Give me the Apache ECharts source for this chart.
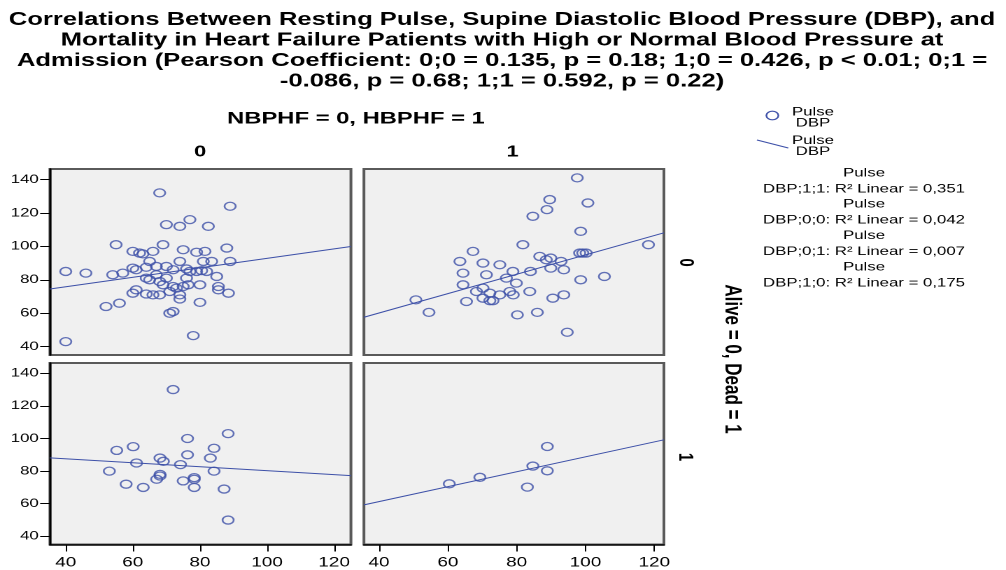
<!DOCTYPE html>
<html>
<head>
<meta charset="utf-8">
<script src="https://cdn.jsdelivr.net/npm/echarts@6/dist/echarts.min.js"></script>
<style>
  html, body { margin: 0; padding: 0; background: #fff; overflow: hidden; }
  /* the reference is an SPSS picture stretched sideways, so the chart is drawn narrow and scaled */
  #chart { width: 719px; height: 570px; transform: scaleX(1.3992); transform-origin: 0 0; }
</style>
</head>
<body>
<div id="chart"></div>
<script>
// Pulse (x) and DBP (y), one pair of arrays per panel
const aliveNormalPulse = [40,40,46,52,54,55,56,57,60,60,60,61,61,62,63,64,64,64,65,66,65,66,67,67,68,68,68,69,69,70,70,70,71,72,71,72,72,73,74,74,74,74,75,75,76,76,76.5,77,77,78,79,79,80,80,80.5,81.5,81,82,82.5,83.5,85,85.5,85.5,88,89,89,88.5];
const aliveNormalDbp   = [85,43,84,64,83,101,66,84,97,72,87,74,86,96,95.5,87.5,71.5,81,91,97,80,71,88,83,132,71,79,101,77,113,88,81,60,61,73,86,76,75,112,91,71,68.5,98,76,86.5,81,77,116,85,46.6,96.5,85,77,66.5,85.5,97,91,85,112,91,82,76,74,99,91,124,72];

const aliveHighPulse = [97.6,100.7,89.6,88.8,84.7,98.6,81.8,118.3,67.3,63.5,70.2,75.1,64.4,71.2,78.9,84,86.7,88.6,89.9,89.9,92.9,93.7,98.3,99.2,100.2,98.6,105.5,77,79.9,64.4,68.3,70.2,70.2,72.2,72.2,73.1,75.1,78,79,83.8,90.5,93.7,50.7,54.5,65.4,80.2,86,94.7];
const aliveHighDbp   = [141,126,128,122,118,109,101,101,97,91,90,89,84,83,85,85,94,92,93,87,91,86,96,96,96,80,82,81,78,77,73,75,69,72,67.5,67.5,71,73,71,73,69,71,68,60.5,67,59,60.5,48.6];

const deadNormalPulse = [72,88.4,76.3,60.1,55.2,84.2,76.3,68.1,69.1,61.1,83.1,74.2,53,84.2,68.1,68.1,67.1,75,78.3,78.3,78.3,58,63.1,87.2,88.4];
const deadNormalDbp   = [130,103,100,95,92.7,94,90,88,86,85,88,84,80,80,78,77,75,74,76,75,70,72,70,69,50];

const deadHighPulse = [88.9,84.7,88.9,83.1,69.3,60.4];
const deadHighDbp   = [95.1,83.1,80.2,70.2,76.2,72.2];

// linear fit lines, end points
const aliveNormalFit = [[35.3,74.5],[125,99.9]];
const aliveHighFit   = [[35.6,57.6],[122.8,108.1]];
const deadNormalFit  = [[35.3,88.1],[125,77.2]];
const deadHighFit    = [[35.6,59.3],[122.8,99.2]];

const xTicks = [40,60,80,100,120];
const yTicks = [40,60,80,100,120,140];

const titleLines = [
  'Correlations Between Resting Pulse, Supine Diastolic Blood Pressure (DBP), and',
  'Mortality in Heart Failure Patients with High or Normal Blood Pressure at',
  'Admission (Pearson Coefficient: 0;0 = 0.135, p = 0.18; 1;0 = 0.426, p < 0.01; 0;1 =',
  '-0.086, p = 0.68; 1;1 = 0.592, p = 0.22)'
];
const fitLabels = [
  'DBP;1;1: R\u00b2 Linear = 0,351',
  'DBP;0;0: R\u00b2 Linear = 0,042',
  'DBP;0;1: R\u00b2 Linear = 0,007',
  'DBP;1;0: R\u00b2 Linear = 0,175'
];

const blue = '#3d50a8';
const font = 'Liberation Sans, Arial, sans-serif';

function pairs(xs, ys) {
  return xs.map((x, i) => [x, ys[i]]);
}

const chart = echarts.init(document.getElementById('chart'), null, { devicePixelRatio: 2 });

const grids = [
  { left: 35.7,  top: 169, width: 215.1, height: 186 },
  { left: 260.1, top: 169, width: 214.4, height: 186 },
  { left: 35.7,  top: 363, width: 215.1, height: 186 },
  { left: 260.1, top: 363, width: 214.4, height: 186 }
].map(g => Object.assign(g, {
  show: true, backgroundColor: '#f0f0f0', borderColor: '#5a5a5a', borderWidth: 2
}));

const xRanges = [[35.3,125],[35.6,122.8],[35.3,125],[35.6,122.8]];

const xAxes = xRanges.map((r, i) => ({
  type: 'value', gridIndex: i, min: r[0], max: r[1],
  splitLine: { show: false },
  axisLine: { show: i >= 2, onZero: false, lineStyle: { color: '#000', width: 1.5 } },
  axisTick: { show: i >= 2, length: 7, customValues: xTicks, lineStyle: { color: '#000' } },
  axisLabel: { show: i >= 2, margin: 11.5, customValues: xTicks, color: '#000', fontFamily: font, fontSize: 13.5 }
}));

const yAxes = [0, 1, 2, 3].map(i => ({
  type: 'value', gridIndex: i, min: 35, max: 146.3,
  splitLine: { show: false },
  axisLine: { show: i % 2 === 0, onZero: false, lineStyle: { color: '#000', width: 1.5 } },
  axisTick: { show: i % 2 === 0, length: 7, customValues: yTicks, lineStyle: { color: '#000' } },
  axisLabel: { show: i % 2 === 0, margin: 8, customValues: yTicks, color: '#000', fontFamily: font, fontSize: 12 }
}));

const panels = [
  pairs(aliveNormalPulse, aliveNormalDbp),
  pairs(aliveHighPulse, aliveHighDbp),
  pairs(deadNormalPulse, deadNormalDbp),
  pairs(deadHighPulse, deadHighDbp)
];
const fits = [aliveNormalFit, aliveHighFit, deadNormalFit, deadHighFit];

const series = [];
panels.forEach((data, i) => {
  series.push({
    type: 'scatter', xAxisIndex: i, yAxisIndex: i, data: data,
    symbol: 'circle', symbolSize: 8,
    itemStyle: { color: 'transparent', borderColor: blue, borderWidth: 1.3 }
  });
  series.push({
    type: 'line', xAxisIndex: i, yAxisIndex: i, data: fits[i],
    showSymbol: false, silent: true,
    lineStyle: { color: blue, width: 1 }
  });
});

// free text: title, facet labels, legend
const graphic = [
  { type: 'text', x: 358.8, y: 9.5, style: { text: titleLines.join('\n'), fontFamily: font, fontWeight: 'bold', fontSize: 18.3, lineHeight: 20.6, align: 'center', verticalAlign: 'top', fill: '#000' } },
  { type: 'text', x: 254.4, y: 119, style: { text: 'NBPHF = 0, HBPHF = 1', fontFamily: font, fontWeight: 'bold', fontSize: 17, align: 'center', verticalAlign: 'middle', fill: '#000' } },
  { type: 'text', x: 143, y: 152, style: { text: '0', fontFamily: font, fontWeight: 'bold', fontSize: 15.5, align: 'center', verticalAlign: 'middle', fill: '#000' } },
  { type: 'text', x: 366.3, y: 152, style: { text: '1', fontFamily: font, fontWeight: 'bold', fontSize: 15.5, align: 'center', verticalAlign: 'middle', fill: '#000' } },
  { type: 'text', x: 489.9, y: 262.5, rotation: -Math.PI / 2, style: { text: '0', fontFamily: font, fontWeight: 'bold', fontSize: 15, align: 'center', verticalAlign: 'middle', fill: '#000' } },
  { type: 'text', x: 489.6, y: 457, rotation: -Math.PI / 2, style: { text: '1', fontFamily: font, fontWeight: 'bold', fontSize: 15, align: 'center', verticalAlign: 'middle', fill: '#000' } },
  { type: 'text', x: 523, y: 359, rotation: -Math.PI / 2, style: { text: 'Alive = 0, Dead = 1', fontFamily: font, fontWeight: 'bold', fontSize: 17, align: 'center', verticalAlign: 'middle', fill: '#000' } },
  { type: 'circle', shape: { cx: 552, cy: 115.5, r: 4.3 }, style: { fill: 'none', stroke: blue, lineWidth: 1.2 } },
  { type: 'line', shape: { x1: 541, y1: 140, x2: 563.4, y2: 148 }, style: { stroke: blue, lineWidth: 1 } },
  { type: 'text', x: 581, y: 117.5, style: { text: 'Pulse\nDBP', fontFamily: font, fontSize: 12, lineHeight: 11, align: 'center', verticalAlign: 'middle', fill: '#000' } },
  { type: 'text', x: 581, y: 146, style: { text: 'Pulse\nDBP', fontFamily: font, fontSize: 12, lineHeight: 11, align: 'center', verticalAlign: 'middle', fill: '#000' } }
];
fitLabels.forEach((t, i) => {
  graphic.push({ type: 'text', x: 617.5, y: 173 + i * 31.4, style: { text: 'Pulse', fontFamily: font, fontSize: 12, align: 'center', verticalAlign: 'middle', fill: '#000' } });
  graphic.push({ type: 'text', x: 617.5, y: 189 + i * 31.4, style: { text: t, fontFamily: font, fontSize: 12, align: 'center', verticalAlign: 'middle', fill: '#000' } });
});

let option;
option = {
  animation: false,
  grid: grids,
  xAxis: xAxes,
  yAxis: yAxes,
  series: series,
  graphic: graphic
};

option && chart.setOption(option);
</script>
</body>
</html>
